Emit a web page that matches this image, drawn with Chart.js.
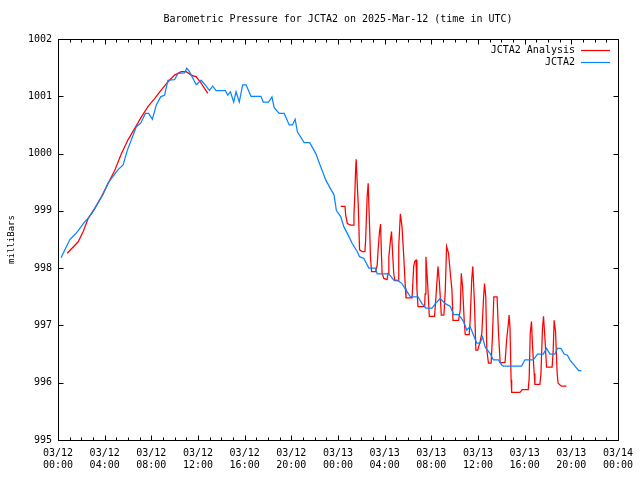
<!DOCTYPE html>
<html>
<head>
<meta charset="utf-8">
<script src="https://cdn.jsdelivr.net/npm/chart.js@4"></script>
<style>
html,body{margin:0;padding:0;background:#fff;}
#wrap{width:640px;height:480px;}
</style>
</head>
<body>
<div id="wrap"><canvas id="c" width="640" height="480"></canvas></div>
<script>
const chartTitle = 'Barometric Pressure for JCTA2 on 2025-Mar-12 (time in UTC)';
const yTitle = 'milliBars';
const dateLabels = ['03/12','03/12','03/12','03/12','03/12','03/12','03/13','03/13','03/13','03/13','03/13','03/13','03/14'];
const timeLabels = ['00:00','04:00','08:00','12:00','16:00','20:00','00:00','04:00','08:00','12:00','16:00','20:00','00:00'];

// hours since 03/12 00:00 UTC
const blueHours = [0.26,0.54,1.02,1.51,1.94,2.25,2.59,3.02,3.44,3.87,
4.30,4.72,5.15,5.58,5.95,6.29,6.72,7.09,7.49,7.77,
8.09,8.43,8.80,9.14,9.42,9.99,10.28,10.85,11.04,11.27,
11.85,12.27,12.62,12.98,13.26,13.55,14.35,14.55,14.78,15.06,
15.26,15.54,15.83,16.12,16.54,17.40,17.59,18.05,18.34,18.53,
18.96,19.39,19.82,20.10,20.33,20.52,21.10,21.58,22.10,22.52,
22.95,23.38,23.66,23.86,24.23,24.51,24.94,25.22,25.65,25.85,
26.22,26.65,27.22,27.36,28.36,28.78,29.07,29.49,29.92,30.21,
30.86,31.20,31.54,32.06,32.35,32.77,33.20,33.63,33.91,34.34,
34.76,35.04,35.33,35.62,35.90,36.19,36.39,36.62,37.04,37.32,
37.75,38.03,38.18,39.74,40.03,40.74,41.11,41.60,41.88,42.17,
42.59,42.82,43.11,43.39,43.67,43.88,44.35,44.64,44.87];
const bluePressure = [998.18,998.30,998.50,998.60,998.71,998.80,998.87,998.99,999.14,999.29,
999.49,999.60,999.72,999.80,1000.06,1000.24,1000.47,1000.53,1000.70,1000.70,
1000.60,1000.85,1000.99,1001.02,1001.28,1001.29,1001.40,1001.41,1001.49,1001.43,
1001.20,1001.28,1001.20,1001.10,1001.18,1001.10,1001.10,1001.02,1001.08,1000.90,
1001.08,1000.90,1001.20,1001.20,1001.00,1001.00,1000.90,1000.90,1000.99,1000.80,
1000.70,1000.70,1000.50,1000.50,1000.60,1000.38,1000.19,1000.19,1000.00,999.77,
999.54,999.38,999.28,999.01,998.90,998.72,998.55,998.43,998.29,998.20,
998.17,998.00,998.00,997.90,997.90,997.79,997.79,997.73,997.59,997.50,
997.50,997.38,997.30,997.30,997.38,997.47,997.38,997.33,997.19,997.19,
997.07,996.92,996.98,996.83,996.69,996.69,996.80,996.62,996.51,996.40,
996.40,996.31,996.29,996.29,996.40,996.40,996.50,996.50,996.60,996.50,
996.50,996.60,996.60,996.50,996.48,996.40,996.28,996.21,996.21];

const redHours = [0.79,1.73,2.16,2.59,3.16,3.73,4.30,4.87,5.44,6.00,
6.58,7.15,7.71,8.28,8.86,9.42,9.99,10.57,10.99,11.42,11.85,12.27,12.84,
18.50,
24.23,24.60,24.66,24.80,25.09,25.31,25.37,25.45,25.51,25.56,
25.65,25.74,25.85,26.08,26.31,26.37,26.50,26.59,26.71,26.79,
26.88,27.22,27.36,27.44,27.56,27.65,27.73,27.78,27.93,28.21,
28.30,28.36,28.50,28.59,28.70,28.78,28.87,29.15,29.21,29.30,
29.35,29.49,29.64,29.78,29.83,30.35,30.49,30.58,30.69,30.77,
30.86,31.43,31.47,31.54,31.70,31.83,32.28,32.40,32.57,32.69,
32.86,33.08,33.20,33.31,33.48,33.63,33.77,33.86,34.34,34.48,
34.57,34.68,34.82,34.91,35.25,35.33,35.47,35.56,35.70,35.82,
35.98,36.19,36.33,36.47,36.56,36.67,36.76,36.90,37.13,37.24,
37.36,37.64,37.75,37.90,38.32,38.46,38.61,38.67,38.75,38.84,
38.89,39.60,39.79,40.31,40.39,40.48,40.59,40.68,40.82,40.88,
41.31,41.40,41.53,41.62,41.74,41.88,42.36,42.45,42.53,42.65,
42.79,42.87,43.15,43.58];
const redPressure = [998.26,998.46,998.64,998.87,999.05,999.25,999.48,999.71,1000.00,1000.24,
1000.44,1000.64,1000.82,1000.96,1001.11,1001.25,1001.37,1001.43,1001.43,1001.37,1001.34,1001.23,1001.05,
null,
999.08,999.08,998.93,998.78,998.75,998.75,998.93,999.31,999.71,999.90,
999.48,999.10,998.32,998.29,998.29,998.49,999.25,999.48,998.72,998.17,
997.94,997.94,998.05,998.32,998.64,998.77,998.23,997.91,997.82,997.80,
997.91,998.20,998.49,998.64,998.20,997.91,997.78,997.78,998.38,998.75,
998.95,998.72,998.20,997.65,997.48,997.48,998.03,998.12,998.14,997.62,
997.33,997.33,997.55,998.20,997.68,997.16,997.16,997.51,998.03,997.76,
997.18,997.18,997.62,998.38,998.26,997.91,997.62,997.09,997.09,997.27,
997.91,997.68,997.09,996.84,996.84,997.09,997.82,998.03,997.39,996.57,
996.57,996.72,996.86,997.44,997.73,997.50,996.57,996.34,996.34,996.80,
997.50,997.50,996.92,996.35,996.35,996.75,997.04,997.18,996.95,996.05,
995.83,995.83,995.88,995.88,996.08,996.86,997.07,996.63,996.16,995.97,
995.97,996.16,996.95,997.16,996.78,996.27,996.27,996.57,997.09,996.89,
996.16,995.99,995.94,995.94];

const FONT = 'DejaVu Sans Mono';
const RED = '#ff0000';
const BLUE = '#0a84ff';

function pts(xs, ys){ return xs.map((x,i)=>({x:x, y:ys[i]})); }

const framePlugin = {
  id: 'frame',
  afterDraw(chart){
    const ctx = chart.ctx, a = chart.chartArea;
    const xs = chart.scales.x, ys = chart.scales.y;
    const L = Math.round(a.left)+0.5, R = Math.round(a.right)+0.5;
    const T = Math.round(a.top)+0.5, B = Math.round(a.bottom)+0.5;
    ctx.save();
    ctx.strokeStyle = '#000';
    ctx.lineWidth = 1;
    ctx.beginPath();
    ctx.rect(L, T, R-L, B-T);
    for (let h = xs.min; h <= xs.max; h++){
      const px = Math.round(xs.getPixelForValue(h))+0.5;
      const len = (h % 4 === 0) ? 5 : 3;
      ctx.moveTo(px, B); ctx.lineTo(px, B-len);
      ctx.moveTo(px, T); ctx.lineTo(px, T+len);
    }
    for (let p = ys.min; p <= ys.max; p++){
      const py = Math.round(ys.getPixelForValue(p))+0.5;
      ctx.moveTo(L, py); ctx.lineTo(L+5, py);
      ctx.moveTo(R, py); ctx.lineTo(R-5, py);
    }
    ctx.stroke();
    ctx.fillStyle = '#000';
    ctx.font = '10px "' + FONT + '"';
    ctx.textAlign = 'center';
    ctx.textBaseline = 'middle';
    ctx.fillText(chartTitle, (a.left + a.right)/2, 19);
    ctx.textAlign = 'right';
    chart.data.datasets.forEach((ds, i) => {
      const y = 50 + i*12;
      ctx.fillStyle = '#000';
      ctx.fillText(ds.label, 575, y);
      ctx.strokeStyle = ds.borderColor;
      ctx.lineWidth = 1.2;
      ctx.beginPath();
      ctx.moveTo(581, Math.round(y)+0.5);
      ctx.lineTo(610, Math.round(y)+0.5);
      ctx.stroke();
    });
    ctx.restore();
  }
};

new Chart(document.getElementById('c'), {
  type: 'line',
  data: {
    datasets: [
      { label: 'JCTA2 Analysis', data: pts(redHours, redPressure), borderColor: RED, backgroundColor: RED,
        borderWidth: 1.25, pointRadius: 0, tension: 0, spanGaps: false, order: 1 },
      { label: 'JCTA2', data: pts(blueHours, bluePressure), borderColor: BLUE, backgroundColor: BLUE,
        borderWidth: 1.25, pointRadius: 0, tension: 0, order: 0 }
    ]
  },
  options: {
    responsive: false,
    animation: false,
    layout: { padding: { top: 39, right: 20, left: 0, bottom: 0 } },
    plugins: {
      legend: { display: false },
      title: { display: false },
      tooltip: { enabled: false }
    },
    scales: {
      x: {
        type: 'linear', min: 0, max: 48,
        grid: { display: false, drawTicks: false },
        border: { display: false },
        afterFit(s){ s.height = 40; },
        ticks: {
          stepSize: 4, autoSkip: false, maxRotation: 0, padding: 7,
          color: '#000',
          font: { family: FONT, size: 10, lineHeight: 1.2 },
          callback: (v) => { const i = Math.round(v/4); return [dateLabels[i], timeLabels[i]]; }
        }
      },
      y: {
        type: 'linear', min: 995, max: 1002,
        grid: { display: false, drawTicks: false },
        border: { display: false },
        afterFit(s){ s.width = 58; },
        ticks: {
          stepSize: 1, padding: 6, color: '#000',
          font: { family: FONT, size: 10 },
          callback: (v) => String(v)
        },
        title: { display: true, text: yTitle, color: '#000', padding: { top: 6, bottom: 0 },
          font: { family: FONT, size: 9 } }
      }
    }
  },
  plugins: [framePlugin]
});
</script>
</body>
</html>
